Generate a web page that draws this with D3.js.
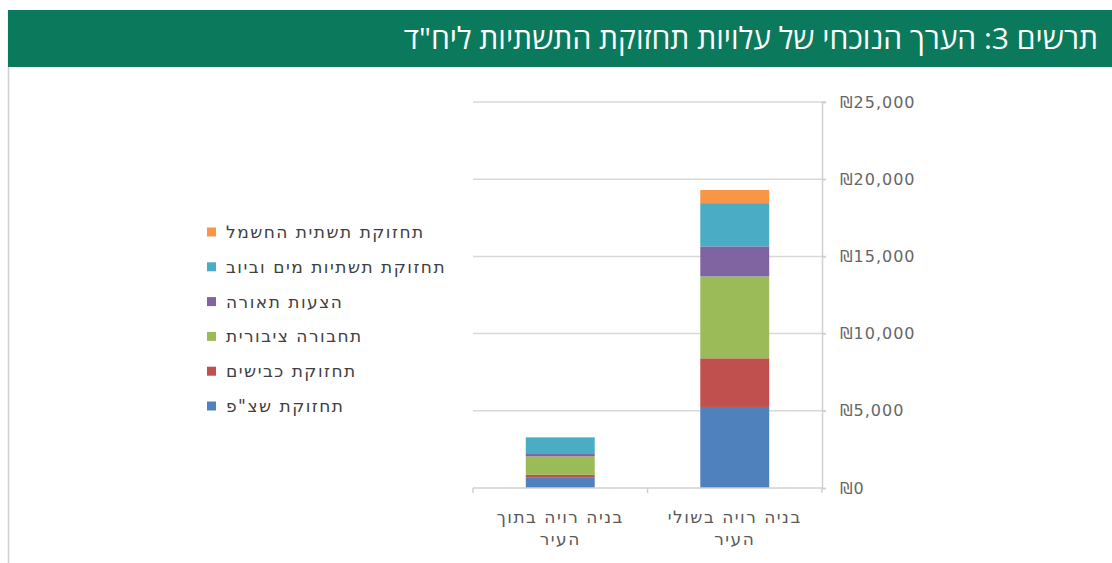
<!DOCTYPE html>
<html>
<head>
<meta charset="utf-8">
<script src="https://cdn.jsdelivr.net/npm/d3@7"></script>
<style>
  body { margin: 0; background: #fff; }
  svg { display: block; }
</style>
</head>
<body>
<div class="chart"></div>
<script>
// categories (x axis), two lines each
var categories = ["בניה רויה בתוך העיר", "בניה רויה בשולי העיר"];
var categoryLines = [["בניה רויה בתוך", "העיר"], ["בניה רויה בשולי", "העיר"]];

// series, bottom to top of the stack
var seriesNames = ["תחזוקת שצ\"פ", "תחזוקת כבישים", "תחבורה ציבורית", "הצעות תאורה", "תחזוקת תשתיות מים וביוב", "תחזוקת תשתית החשמל"];
var parks     = [700, 5250];
var roads     = [150, 3150];
var transit   = [1200, 5300];
var lighting  = [150, 1950];
var water     = [1050, 2800];
var power     = [50, 850];

var yTicks = [0, 5000, 10000, 15000, 20000, 25000];
var titleText = "תרשים 3: הערך הנוכחי של עלויות תחזוקת התשתיות ליח\"ד";

var colors = ["#4f81bd", "#c0504d", "#9bbb59", "#8064a2", "#4bacc6", "#f79646"];

var width = 1112, height = 563;
var svg = d3.select(".chart").append("svg")
    .attr("width", width)
    .attr("height", height);

// frame + title band
svg.append("line")
  .attr("x1", 8.5).attr("x2", 8.5)
  .attr("y1", 10).attr("y2", height)
  .style("stroke", "#cfcfcf").style("stroke-width", 1.5);

svg.append("rect")
  .attr("x", 8).attr("y", 10)
  .attr("width", width - 8).attr("height", 57)
  .attr("fill", "#0b7a5c");

svg.append("text")
  .attr("x", 1098).attr("y", 49)
  .attr("direction", "rtl")
  .style("text-anchor", "start")
  .style("font-family", "'Open Sans', 'DejaVu Sans', sans-serif")
  .style("font-size", "30px")
  .style("fill", "#fff")
  .text(titleText);

// build table for stack
var seriesValues = [parks, roads, transit, lighting, water, power];
var table = categories.map(function(c, i) {
  var row = { cat: c };
  seriesNames.forEach(function(s, j) { row[s] = seriesValues[j][i]; });
  return row;
});
var stacked = d3.stack().keys(seriesNames)(table);

var x = d3.scaleBand()
    .domain(categories)
    .range([473, 822])
    .paddingInner(0.605)
    .paddingOuter(0.3025);

var y = d3.scaleLinear()
    .domain([0, 25000])
    .range([488, 102]);

// gridlines
svg.append("g").selectAll("line")
  .data(yTicks.slice(1))
  .enter().append("line")
    .attr("x1", 473).attr("x2", 826)
    .attr("y1", function(d) { return y(d); })
    .attr("y2", function(d) { return y(d); })
    .style("stroke", "#d9d9d9")
    .style("stroke-width", 1.5);

// y axis on the right
var yAxis = svg.append("g")
    .attr("transform", "translate(822,0)")
    .call(d3.axisRight(y).tickValues(yTicks).tickSize(4).tickPadding(14)
      .tickFormat(function(d) { return "₪" + d3.format(",")(d); }));
yAxis.select(".domain").style("stroke", "#d0d0d0").style("stroke-width", 1.5);
yAxis.selectAll(".tick line").style("stroke", "#d0d0d0").style("stroke-width", 1.5);
yAxis.selectAll("text")
  .style("font-family", "'DejaVu Sans', sans-serif")
  .style("font-size", "16px")
  .style("letter-spacing", "1px")
  .style("fill", "#666");

// bars
svg.append("g").selectAll("g")
  .data(stacked)
  .enter().append("g")
    .attr("fill", function(d, i) { return colors[i]; })
  .selectAll("rect")
  .data(function(d) { return d; })
  .enter().append("rect")
    .attr("x", function(d) { return x(d.data.cat); })
    .attr("width", x.bandwidth())
    .attr("y", function(d) { return y(d[1]); })
    .attr("height", function(d) { return y(d[0]) - y(d[1]); });

// x axis baseline and category separators
svg.append("line")
  .attr("x1", 473).attr("x2", 822)
  .attr("y1", 488).attr("y2", 488)
  .style("stroke", "#d0d0d0").style("stroke-width", 1.5);
var step = x.step();
svg.append("g").selectAll("line")
  .data([0, 1, 2])
  .enter().append("line")
    .attr("x1", function(d) { return 473 + d * step; })
    .attr("x2", function(d) { return 473 + d * step; })
    .attr("y1", 488).attr("y2", 493)
    .style("stroke", "#d0d0d0").style("stroke-width", 1.5);

// category labels
var catLabels = svg.append("g").selectAll("text")
  .data(categories)
  .enter().append("text")
    .attr("direction", "rtl")
    .style("text-anchor", "middle")
    .style("font-family", "'DejaVu Sans', sans-serif")
    .style("font-size", "17px")
    .style("letter-spacing", "1.5px")
    .style("fill", "#595959");
catLabels.each(function(c, i) {
  var t = d3.select(this);
  categoryLines[i].forEach(function(line, k) {
    t.append("tspan")
      .attr("x", x(c) + x.bandwidth() / 2)
      .attr("y", 523 + k * 22)
      .text(line);
  });
});

// legend, top item is the last series
var legendItems = seriesNames.slice().reverse();
var legend = svg.append("g").selectAll("g")
  .data(legendItems)
  .enter().append("g")
    .attr("transform", function(d, i) { return "translate(0," + (232 + i * 34.8) + ")"; });
legend.append("rect")
  .attr("x", 207).attr("y", -4.5)
  .attr("width", 9).attr("height", 9)
  .attr("fill", function(d, i) { return colors[colors.length - 1 - i]; });
legend.append("text")
  .attr("x", 226).attr("y", 6)
  .style("text-anchor", "start")
  .style("font-family", "'DejaVu Sans', sans-serif")
  .style("font-size", "17px")
  .style("letter-spacing", "1.5px")
  .style("fill", "#404040")
  .text(function(d) { return d; });
</script>
</body>
</html>
